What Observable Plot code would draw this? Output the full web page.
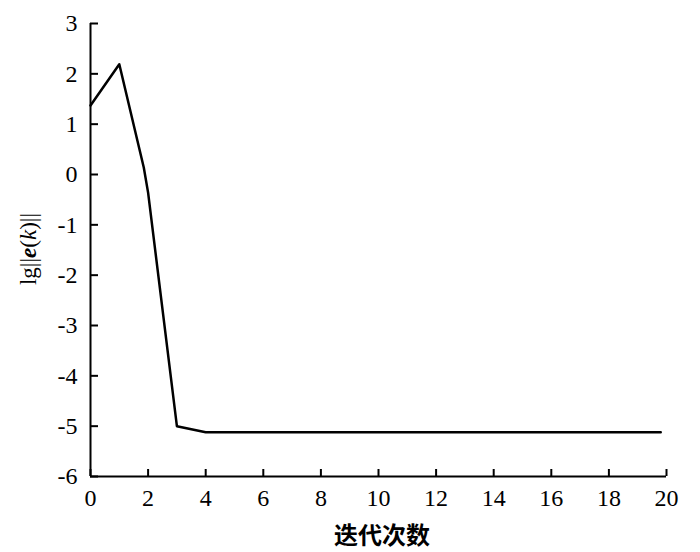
<!DOCTYPE html>
<html><head><meta charset="utf-8">
<script src="https://cdn.jsdelivr.net/npm/d3@7"></script>
<script src="https://cdn.jsdelivr.net/npm/@observablehq/plot@0.6"></script>
<style>
body{margin:0;background:#fff}
</style>
</head><body><div id="chart"></div>
<script>
const iterations = [0, 1, 1.85, 2, 3, 4, 6, 8, 10, 12, 14, 16, 18, 19.8];
const lgError   = [1.37, 2.19, 0.14, -0.36, -5.0, -5.12, -5.12, -5.12, -5.12, -5.12, -5.12, -5.12, -5.12, -5.12];
const xTicks = [0, 2, 4, 6, 8, 10, 12, 14, 16, 18, 20];
const yTicks = [-6, -5, -4, -3, -2, -1, 0, 1, 2, 3];
const xLabel = "迭代次数";

const data = iterations.map((x, i) => ({x, y: lgError[i]}));

const W = 700, H = 552, ML = 90, MR = 34, MT = 23, MB = 76;
const chart = Plot.plot({
  width: W, height: H,
  marginLeft: ML, marginRight: MR, marginTop: MT, marginBottom: MB,
  x: {domain: [0, 20]},
  y: {domain: [-6, 3]},
  marks: [
    Plot.axisX({ticks: xTicks, tickSize: 0, tickPadding: 12, label: null}),
    Plot.axisY({ticks: yTicks, tickSize: 0, tickPadding: 13, label: null, tickFormat: d => String(d)}),
    Plot.tickX(xTicks, {x: d => d, insetTop: (H - MT - MB) - 7, strokeWidth: 2, stroke: "#000"}),
    Plot.tickY(yTicks, {y: d => d, insetRight: (W - ML - MR) - 8, strokeWidth: 2, stroke: "#000"}),
    Plot.ruleX([0], {strokeWidth: 2}),
    Plot.ruleY([-6], {strokeWidth: 2}),
    Plot.line(data, {x: "x", y: "y", stroke: "#000", strokeWidth: 2.5})
  ]
});
document.getElementById("chart").appendChild(chart);

const svg = d3.select(chart);
svg.selectAll("text")
  .style("font-family", "'Liberation Serif', serif")
  .style("font-size", "24px")
  .style("fill", "#000");

const yl = svg.append("text")
  .attr("transform", "translate(36,249) rotate(-90)")
  .attr("text-anchor", "middle")
  .style("font-family", "'Liberation Serif', serif")
  .style("font-size", "23px")
  .attr("fill", "#000");
yl.append("tspan").text("lg||");
yl.append("tspan").attr("font-weight", "bold").attr("font-style", "italic").text("e");
yl.append("tspan").text("(");
yl.append("tspan").attr("font-style", "italic").text("k");
yl.append("tspan").text(")||");

svg.append("text")
  .attr("x", 382).attr("y", 544)
  .attr("text-anchor", "middle")
  .style("font-family", "'Noto Sans CJK SC', sans-serif")
  .style("font-weight", "bold")
  .style("font-size", "24px")
  .attr("fill", "#000")
  .text(xLabel);
</script>
</body></html>
